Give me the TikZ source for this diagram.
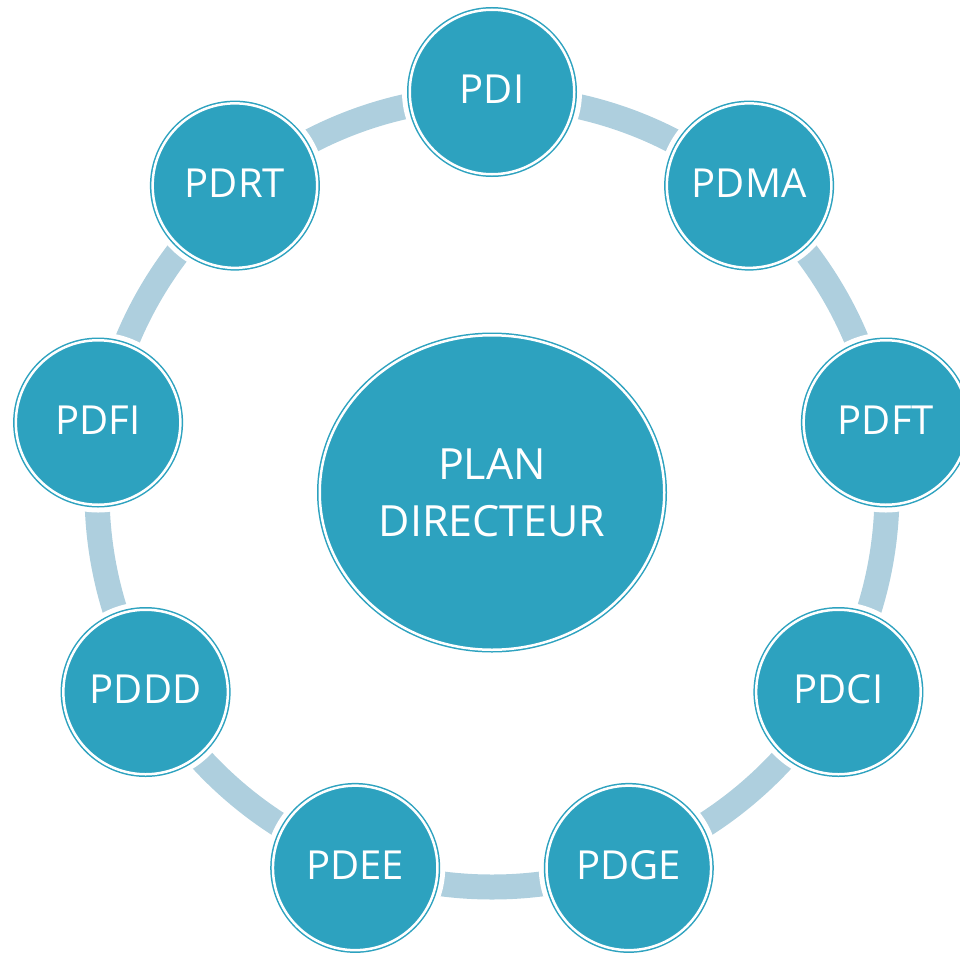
\documentclass[tikz,border=0pt]{standalone}
\usepackage{fontspec}
\setmainfont{Open Sans}
\usetikzlibrary{shapes.geometric}
\definecolor{tealfill}{HTML}{2DA2BF}
\definecolor{ringblue}{HTML}{AECFDE}
\begin{document}
\begin{tikzpicture}[x=1pt,y=-1pt,
  halo/.style={preaction={draw=white, line width=15.5pt}},
  rim/.style={fill=tealfill, draw=tealfill, double=white, double distance=2.5pt, line width=1.5pt},
  topic/.style={circle, rim, halo, inner sep=0pt, minimum size=164.5pt,
    text=white, text height=29pt, text depth=6pt, font=\fontsize{40}{48}\selectfont},
  hub/.style={ellipse, rim, halo, inner sep=0pt, minimum width=344.5pt, minimum height=314.5pt,
    text=white, align=center, font=\fontsize{43}{57}\selectfont},
  ring/.style={draw=ringblue, line width=25pt}]
\useasboundingbox (0,0) rectangle (960,953);
% connecting ring
\path[ring] (492,492) circle[radius=395];
% central plan
\node[hub] (plan) at (492,492.5) {PLAN\\DIRECTEUR};
% surrounding plans
\node[topic] (pdi)  at (492,92)      {PDI};
\node[topic] (pdma) at (749.1,185.6) {PDMA};
\node[topic] (pdft) at (885.9,422.5) {PDFT};
\node[topic] (pdci) at (838.4,692)   {PDCI};
\node[topic] (pdge) at (628.8,867.9) {PDGE};
\node[topic] (pdee) at (355.2,867.9) {PDEE};
\node[topic] (pddd) at (145.6,692)   {PDDD};
\node[topic] (pdfi) at (98.1,422.5)  {PDFI};
\node[topic] (pdrt) at (234.9,185.6) {PDRT};
\end{tikzpicture}
\end{document}
